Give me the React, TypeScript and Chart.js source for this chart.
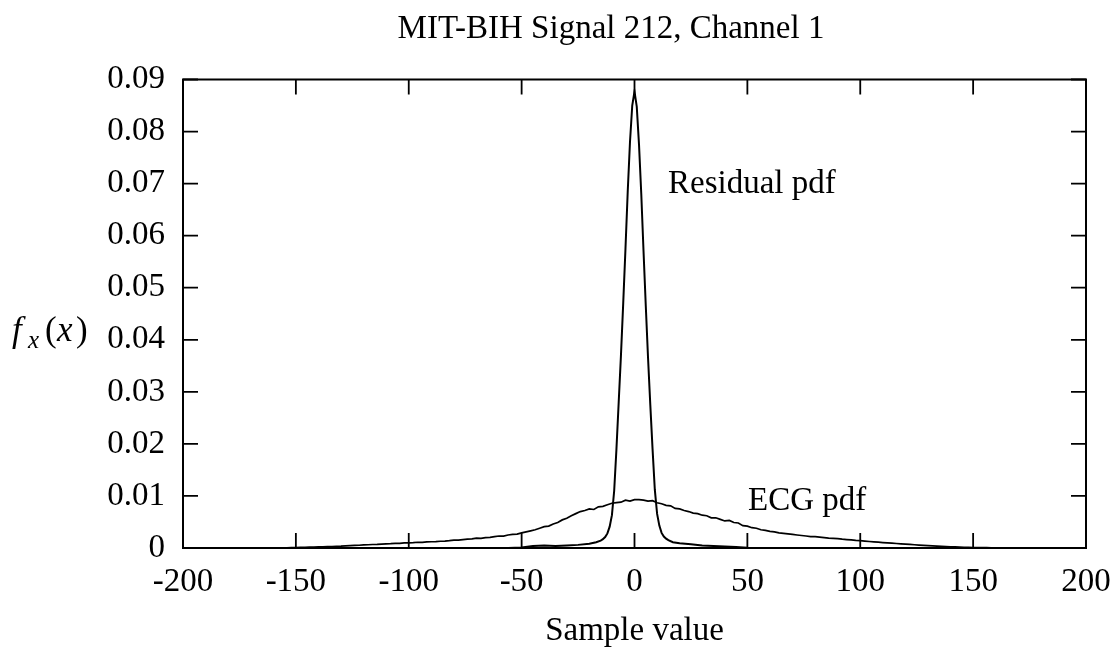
import { useEffect, useRef } from 'react';
import { Chart, registerables } from 'chart.js';

Chart.register(...registerables);

const TITLE = 'MIT-BIH Signal 212, Channel 1';
const X_LABEL = 'Sample value';
const RES_LABEL = 'Residual pdf';
const ECG_LABEL = 'ECG pdf';

const X_TICKS = [-200, -150, -100, -50, 0, 50, 100, 150, 200];
const Y_TICKS = [0, 0.01, 0.02, 0.03, 0.04, 0.05, 0.06, 0.07, 0.08, 0.09];

const residualX = [-56, -50, -45, -40, -35, -30, -25, -20, -17, -15, -14, -13, -12, -11, -10, -9, -8, -7, -6, -5, -4, -3, -2, -1, 0, 1, 2, 3, 4, 5, 6, 7, 8, 9, 10, 11, 12, 13, 14, 15, 17, 20, 25, 30, 35, 40, 45, 50, 56];
const residualY = [0, 0.0001, 0.0004, 0.0005, 0.0004, 0.0005, 0.0006, 0.0008, 0.0011, 0.0014, 0.0017, 0.0021, 0.0028, 0.0041, 0.0063, 0.011, 0.019, 0.028, 0.037, 0.047, 0.0575, 0.0685, 0.078, 0.085, 0.0877, 0.0848, 0.0775, 0.068, 0.057, 0.0465, 0.0365, 0.0275, 0.019, 0.0112, 0.0066, 0.0043, 0.0029, 0.0022, 0.0018, 0.0015, 0.0011, 0.0009, 0.0007, 0.0005, 0.0004, 0.0003, 0.0002, 0.00005, 0];

const ecgX = [
  -160, -158, -156, -154, -152, -150, -148, -146, -144, -142, -140, -138, -136, -134, -132, -130, -128, -126, -124, -122,
  -120, -118, -116, -114, -112, -110, -108, -106, -104, -102, -100, -98, -96, -94, -92, -90, -88, -86, -84, -82,
  -80, -78, -76, -74, -72, -70, -68, -66, -64, -62, -60, -58, -56, -54, -52, -50, -48, -46, -44, -42,
  -40, -38, -36, -34, -32, -30, -28, -26, -24, -22, -20, -18, -16, -14, -12, -10, -8, -6, -4, -2,
  0, 2, 4, 6, 8, 10, 12, 14, 16, 18, 20, 22, 24, 26, 28, 30, 32, 34, 36, 38,
  40, 42, 44, 46, 48, 50, 52, 54, 56, 58, 60, 62, 64, 66, 68, 70, 72, 74, 76, 78,
  80, 82, 84, 86, 88, 90, 92, 94, 96, 98, 100, 102, 104, 106, 108, 110, 112, 114, 116, 118,
  120, 122, 124, 126, 128, 130, 132, 134, 136, 138, 140, 142, 144, 146, 148, 150, 152, 154, 156, 158,
  160,
];
const ecgY = [
  0, 0.00001, 0.00002, 0.00004, 0.00007, 0.00009, 0.00011, 0.00013, 0.00015, 0.00018, 0.0002, 0.00023, 0.00025, 0.00028, 0.00032, 0.00035, 0.0004, 0.00044, 0.00049, 0.00053,
  0.0006, 0.00062, 0.00067, 0.0007, 0.00076, 0.0008, 0.00083, 0.00088, 0.0009, 0.00097, 0.001, 0.00102, 0.0011, 0.00108, 0.00116, 0.0012, 0.00122, 0.0013, 0.00133, 0.0014,
  0.0015, 0.00153, 0.00162, 0.0017, 0.00175, 0.0019, 0.00186, 0.002, 0.00205, 0.00218, 0.0023, 0.00229, 0.0025, 0.0026, 0.00266, 0.0029, 0.0031, 0.0033, 0.0035, 0.0038,
  0.0041, 0.0042, 0.0046, 0.0049, 0.0054, 0.0057, 0.0062, 0.0066, 0.0070, 0.0072, 0.0075, 0.0074, 0.0079, 0.0080, 0.0083, 0.0086, 0.0087, 0.0088, 0.0092, 0.0090,
  0.0093, 0.0093, 0.0092, 0.0090, 0.0091, 0.0087, 0.0085, 0.0082, 0.0081, 0.0076, 0.0075, 0.0072, 0.0070, 0.0067, 0.0066, 0.0063, 0.0062, 0.0058, 0.0058, 0.0055,
  0.0052, 0.0053, 0.0049, 0.0048, 0.0043, 0.0042, 0.0039, 0.0038, 0.0035, 0.0034, 0.0032, 0.0031, 0.0029, 0.0028, 0.0027, 0.0026, 0.0025, 0.0024, 0.0023, 0.0022,
  0.0022, 0.0021, 0.002, 0.0019, 0.00185, 0.0018, 0.0017, 0.00162, 0.00155, 0.00145, 0.0014, 0.00132, 0.00125, 0.00118, 0.00112, 0.00105, 0.00098, 0.00092, 0.00086, 0.0008,
  0.00074, 0.00068, 0.00062, 0.00057, 0.00052, 0.00047, 0.00042, 0.00037, 0.00032, 0.00028, 0.00024, 0.0002, 0.00016, 0.00012, 0.00011, 0.0001, 0.00009, 0.00007, 0.00006, 0.00004,
  0.00002,
];

const FONT = "'Liberation Serif', 'Times New Roman', serif";
const FS = 33;

const decorPlugin = {
  id: 'decor',
  afterDraw(chart: any) {
    const { ctx, chartArea } = chart;
    const { left, right, top, bottom } = chartArea;
    const xs = chart.scales.x;
    const ys = chart.scales.y;
    ctx.save();
    ctx.strokeStyle = '#000';
    ctx.lineWidth = 1.8;
    ctx.beginPath();
    const TL = 15;
    X_TICKS.forEach((v) => {
      const p = xs.getPixelForValue(v);
      ctx.moveTo(p, bottom);
      ctx.lineTo(p, bottom - TL);
      ctx.moveTo(p, top);
      ctx.lineTo(p, top + TL);
    });
    Y_TICKS.forEach((v) => {
      const p = ys.getPixelForValue(v);
      ctx.moveTo(left, p);
      ctx.lineTo(left + TL, p);
      ctx.moveTo(right, p);
      ctx.lineTo(right - TL, p);
    });
    ctx.stroke();
    ctx.lineWidth = 2;
    ctx.strokeRect(left, top, right - left, bottom - top);

    ctx.fillStyle = '#000';
    ctx.textBaseline = 'alphabetic';
    ctx.font = `${FS}px ${FONT}`;
    ctx.textAlign = 'center';
    ctx.fillText(TITLE, 611, 38);
    ctx.fillText(X_LABEL, (left + right) / 2, 640);
    ctx.textAlign = 'left';
    ctx.fillText(RES_LABEL, 668, 193);
    ctx.fillText(ECG_LABEL, 748, 510);

    // y label f_x(x)
    const base = 341;
    const big = 35;
    ctx.font = `italic ${big}px ${FONT}`;
    ctx.fillText('f', 12, base);
    ctx.font = `italic ${Math.round(big * 0.72)}px ${FONT}`;
    ctx.fillText('x', 28, base + 7);
    ctx.font = `${big}px ${FONT}`;
    ctx.fillText('(', 45, base);
    ctx.font = `italic ${big}px ${FONT}`;
    ctx.fillText('x', 57, base);
    ctx.font = `${big}px ${FONT}`;
    ctx.fillText(')', 76, base);
    ctx.restore();
  },
};

export default function App() {
  const ref = useRef<HTMLCanvasElement>(null);
  useEffect(() => {
    if (!ref.current) return;
    const chart = new Chart(ref.current, {
      type: 'line',
      data: {
        datasets: [
          {
            label: 'Residual pdf',
            data: residualX.map((v, i) => ({ x: v, y: residualY[i] })),
            borderColor: '#000',
            borderWidth: 2,
            pointRadius: 0,
            tension: 0,
            fill: false,
          },
          {
            label: 'ECG pdf',
            data: ecgX.map((v, i) => ({ x: v, y: ecgY[i] })),
            borderColor: '#000',
            borderWidth: 1.7,
            pointRadius: 0,
            tension: 0,
            fill: false,
          },
        ],
      },
      options: {
        responsive: false,
        animation: false,
        devicePixelRatio: 1,
        layout: { padding: { top: 79.5, right: 34, left: 0, bottom: 0 } },
        plugins: { legend: { display: false }, tooltip: { enabled: false }, title: { display: false } },
        scales: {
          x: {
            type: 'linear',
            min: -200,
            max: 200,
            afterBuildTicks: (s: any) => {
              s.ticks = X_TICKS.map((v) => ({ value: v }));
            },
            afterFit: (s: any) => {
              s.height = 100;
              s.paddingLeft = 0;
              s.paddingRight = 0;
            },
            grid: { display: false, drawTicks: false },
            border: { display: false },
            ticks: {
              color: '#000',
              padding: 14.7,
              maxRotation: 0,
              autoSkip: false,
              font: { family: FONT, size: FS },
              callback: (v: any) => String(v),
            },
          },
          y: {
            type: 'linear',
            min: 0,
            max: 0.09,
            afterBuildTicks: (s: any) => {
              s.ticks = Y_TICKS.map((v) => ({ value: v }));
            },
            afterFit: (s: any) => {
              s.width = 183;
              s.paddingTop = 0;
              s.paddingBottom = 0;
            },
            grid: { display: false, drawTicks: false },
            border: { display: false },
            ticks: {
              color: '#000',
              padding: 18,
              autoSkip: false,
              font: { family: FONT, size: FS },
              callback: (v: any) => (v === 0 ? '0' : Number(v).toFixed(2)),
            },
          },
        },
      },
      plugins: [decorPlugin],
    });
    return () => chart.destroy();
  }, []);
  return (
    <div style={{ position: 'absolute', left: 0, top: 0, width: 1120, height: 648, background: '#fff' }}>
      <canvas ref={ref} width={1120} height={648} />
    </div>
  );
}
